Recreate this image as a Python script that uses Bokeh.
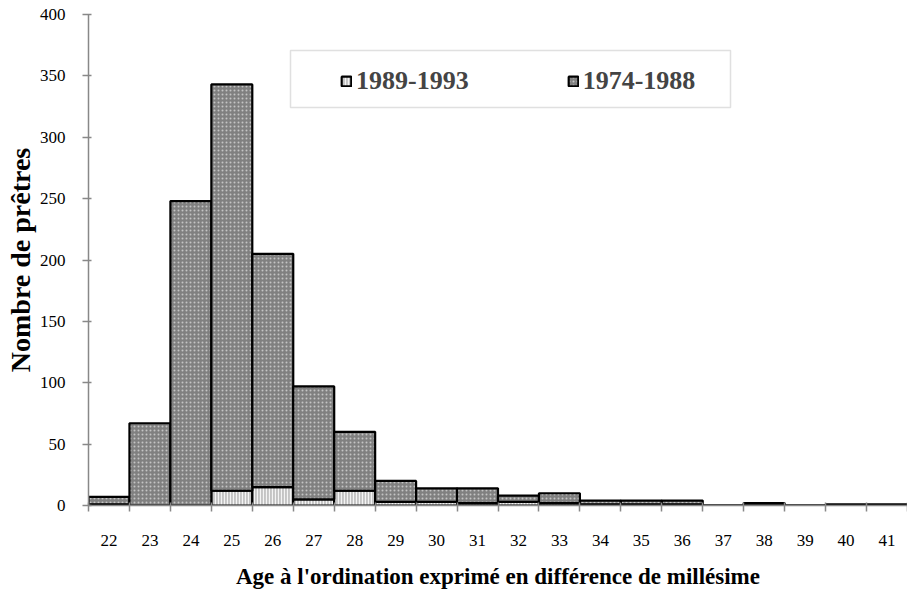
from bokeh.plotting import figure
from bokeh.models import FixedTicker, Legend, LegendItem, BoxAnnotation, ColumnDataSource, Range1d
from bokeh.embed import file_html
from bokeh.resources import INLINE

ages = [22, 23, 24, 25, 26, 27, 28, 29, 30, 31, 32, 33, 34, 35, 36, 37, 38, 39, 40, 41]
s1989_1993 = [1, 0, 0, 12, 15, 5, 12, 3, 3, 2, 3, 2, 1, 1, 1, 0, 0, 0, 0, 0]
s1974_1988 = [6, 67, 248, 331, 190, 92, 48, 17, 11, 12, 5, 8, 3, 3, 3, 0, 2, 0, 1, 1]
y_ticks = [0, 50, 100, 150, 200, 250, 300, 350, 400]
series_names = ["1989-1993", "1974-1988"]

src = ColumnDataSource(dict(age=ages, recent=s1989_1993, older=s1974_1988))

SERIF = "Liberation Serif"

p = figure(frame_width=819, frame_height=491, output_backend="svg", toolbar_location=None,
           x_range=Range1d(21.5, 41.5), y_range=Range1d(0, 400),
           min_border_left=88, min_border_right=0, min_border_top=14, min_border_bottom=86)
p.outline_line_color = None
p.xgrid.visible = False
p.ygrid.visible = False

r = p.vbar_stack(["recent", "older"], x="age", width=1.0, source=src,
                 fill_color=["#c4c4c4", "#808080"],
                 hatch_pattern=["vertical_line", "dot"],
                 hatch_color=["#f4f4f4", "#c4c4c4"],
                 hatch_scale=[3, 4], hatch_weight=[1.2, 1.2],
                 line_color="black", line_width=2.2)

# Axes
boundaries = [a - 0.5 for a in ages] + [ages[-1] + 0.5]
p.xaxis.ticker = FixedTicker(ticks=ages, minor_ticks=boundaries)
p.yaxis.ticker = FixedTicker(ticks=y_ticks)
for ax in (p.xaxis[0], p.yaxis[0]):
    ax.axis_line_color = "#888888"
    ax.axis_line_width = 1.5
    ax.major_label_text_font = SERIF
    ax.major_label_text_font_size = "17px"
    ax.major_label_text_color = "black"
    ax.axis_label_text_font = SERIF
    ax.axis_label_text_font_style = "bold"
    ax.axis_label_text_color = "black"

p.xaxis.major_tick_out = 0
p.xaxis.major_tick_in = 0
p.xaxis.minor_tick_out = 6
p.xaxis.minor_tick_in = 3
p.xaxis.minor_tick_line_color = "#888888"
p.xaxis.minor_tick_line_width = 1.5
p.xaxis.major_label_standoff = 23
p.xaxis.axis_label = "Age à l'ordination exprimé en différence de millésime"
p.xaxis.axis_label_text_font_size = "23px"
p.xaxis.axis_label_standoff = 15

p.yaxis.major_tick_out = 6
p.yaxis.major_tick_in = 3
p.yaxis.major_tick_line_color = "#888888"
p.yaxis.major_tick_line_width = 1.5
p.yaxis.minor_tick_line_color = None
p.yaxis.major_label_standoff = 17
p.yaxis.axis_label = "Nombre de prêtres"
p.yaxis.axis_label_text_font_size = "28px"
p.yaxis.axis_label_standoff = 1

# Legend box
box = BoxAnnotation(left=202, right=642, top=455, bottom=398,
                    left_units="screen", right_units="screen",
                    top_units="screen", bottom_units="screen",
                    fill_color="white", fill_alpha=1.0,
                    line_color="#999999", line_width=1.5)
p.add_layout(box)

legend = Legend(items=[LegendItem(label=series_names[0], renderers=[r[0]]),
                       LegendItem(label=series_names[1], renderers=[r[1]])],
                orientation="horizontal", location=(252, 409),
                border_line_color=None, background_fill_alpha=0,
                label_text_font=SERIF, label_text_font_style="bold",
                label_text_font_size="26px", label_standoff=4,
                glyph_width=12, glyph_height=12, spacing=98, padding=4)
p.add_layout(legend, "center")

open("out.html", "w").write(file_html(p, INLINE))
